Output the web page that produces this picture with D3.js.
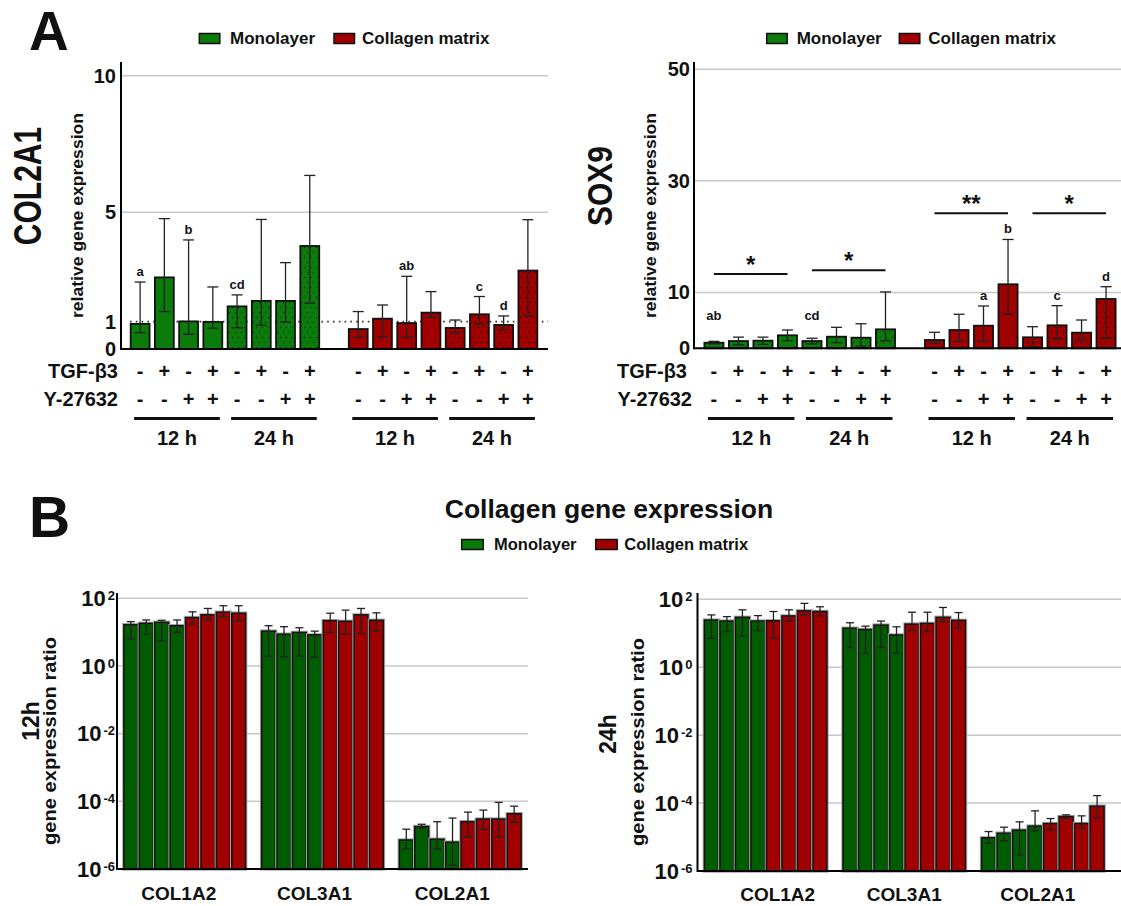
<!DOCTYPE html>
<html lang="en">
<head>
<meta charset="utf-8">
<title>COL2A1 / SOX9 / collagen gene expression</title>
<script src="https://d3js.org/d3.v7.min.js"></script>
<style>
  body { margin: 0; background: #fff; }
  svg { display: block; font-family: "Liberation Sans", Arial, Helvetica, sans-serif; }
  text { font-weight: bold; fill: #111; }
  .grid { stroke: #c8c8c8; stroke-width: 1.5; }
  .axisline { stroke: #000; stroke-width: 2; }
  .err { stroke: #222; stroke-width: 1.3; }
</style>
</head>
<body>
<script>
// ---------- data ----------
var cultures = ["Monolayer", "Collagen matrix"];
var times = ["12 h", "24 h"];
var tgf = ["-", "+", "-", "+", "-", "+", "-", "+"];
var y27632 = ["-", "-", "+", "+", "-", "-", "+", "+"];

// panel A: 8 monolayer bars (12 h, 24 h) then 8 collagen matrix bars
var col2a1Mean = [0.92, 2.62, 1.01, 0.99, 1.56, 1.76, 1.76, 3.77, 0.73, 1.11, 0.95, 1.33, 0.77, 1.27, 0.88, 2.87];
var col2a1Hi   = [2.45, 4.77, 3.99, 2.27, 1.98, 4.74, 3.16, 6.35, 1.37, 1.61, 2.66, 2.10, 1.06, 1.92, 1.21, 4.73];
var col2a1Lo   = [0.60, 1.37, 0.54, 0.76, 0.78, 0.87, 0.99, 1.68, 0.43, 0.45, 0.43, 1.16, 0.60, 0.90, 0.70, 1.22];
var col2a1Letters = ["a", "", "b", "", "cd", "", "", "", "", "", "ab", "", "", "c", "d", ""];

var sox9Mean = [1.0, 1.3, 1.36, 2.33, 1.3, 2.08, 1.9, 3.4, 1.49, 3.28, 4.05, 11.47, 1.97, 4.12, 2.8, 8.84];
var sox9Hi   = [1.25, 2.0, 2.0, 3.28, 1.8, 3.76, 4.4, 10.1, 2.87, 6.1, 7.58, 19.5, 3.87, 7.64, 5.07, 11.04];
var sox9Lo   = [0.8, 0.6, 0.7, 1.36, 0.8, 1.0, 0.4, 1.36, 0.9, 1.25, 1.25, 6.1, 0.3, 1.72, 1.49, 1.79];
var sox9Letters = ["ab", "", "", "", "cd", "", "", "", "", "", "a", "b", "", "c", "", "d"];
var sox9SigPairs = [[0, 3], [4, 7], [8, 11], [12, 15]];
var sox9SigStars = ["*", "*", "**", "*"];
var sox9SigLevel = [13.3, 14.0, 24.2, 24.2];

// panel B: per gene, 4 monolayer then 4 collagen matrix bars
var genes = ["COL1A2", "COL3A1", "COL2A1"];
var ratio12Mean = [
  [16.6, 18.2, 19.5, 15.5, 26.9, 32.4, 38.9, 36.3],
  [10.7, 8.7, 9.8, 8.3, 21.9, 20.9, 32.4, 22.4],
  [7.2e-6, 1.8e-5, 7.6e-6, 6.2e-6, 2.5e-5, 3.0e-5, 3.0e-5, 4.3e-5]];
var ratio12Hi = [
  [20.4, 22.9, 22.4, 22.9, 39.8, 50.1, 60.3, 60.3],
  [15.5, 14.5, 13.5, 10.7, 36.3, 44.7, 50.1, 37.2],
  [1.5e-5, 2.1e-5, 2.5e-5, 3.2e-5, 4.8e-5, 5.5e-5, 9.3e-5, 7.2e-5]];
var ratio12Lo = [
  [6.3, 8.7, 5.6, 9.8, 17.4, 22.9, 28.8, 21.9],
  [1.95, 1.86, 1.95, 1.82, 9.8, 8.7, 9.1, 11.0],
  [3.9e-6, 1.6e-5, 3.9e-6, 1.3e-6, 8.9e-6, 1.5e-5, 8.9e-6, 2.4e-5]];
var ratio24Mean = [
  [24.5, 22.9, 29.5, 22.9, 23.4, 32.4, 45.7, 43.7],
  [14.1, 12.9, 17.4, 8.9, 18.6, 19.5, 29.5, 24.0],
  [9.5e-6, 1.3e-5, 1.6e-5, 2.1e-5, 2.5e-5, 4.0e-5, 2.5e-5, 8.1e-5]];
var ratio24Hi = [
  [34.7, 30.9, 49.0, 33.1, 43.7, 49.0, 75.9, 60.3],
  [20.4, 16.2, 22.9, 15.5, 41.7, 41.7, 57.5, 40.7],
  [1.45e-5, 1.95e-5, 2.8e-5, 5.9e-5, 3.5e-5, 4.5e-5, 4.2e-5, 1.66e-4]];
var ratio24Lo = [
  [7.1, 11.2, 8.3, 12.0, 7.1, 22.9, 34.7, 32.4],
  [3.8, 2.6, 3.8, 2.6, 12.0, 11.2, 21.9, 14.1],
  [6.6e-6, 7.8e-6, 3.0e-6, 1.5e-5, 1.6e-5, 3.5e-5, 1.8e-5, 3.7e-5]];
var logTicks = [1e2, 1e0, 1e-2, 1e-4, 1e-6];

// ---------- setup ----------
var W = 1121, H = 906;
var green = "#0b7b0b", red = "#a00000", greenDark = "#005c00";
var svg = d3.select("body").append("svg").attr("width", W).attr("height", H);
var defs = svg.append("defs");

function dotPattern(id, color, dot) {
  var p = defs.append("pattern").attr("id", id).attr("patternUnits", "userSpaceOnUse")
    .attr("width", 6).attr("height", 10);
  p.append("rect").attr("width", 6).attr("height", 10).attr("fill", color);
  p.append("circle").attr("cx", 1.5).attr("cy", 2.5).attr("r", 0.75).attr("fill", dot);
  p.append("circle").attr("cx", 4.5).attr("cy", 7.5).attr("r", 0.75).attr("fill", dot);
}
dotPattern("dotG", green, "#053805");
dotPattern("dotR", red, "#3a0000");

function txt(g, s, x, y, size, anchor) {
  return g.append("text").attr("x", x).attr("y", y).attr("font-size", size)
    .attr("text-anchor", anchor || "start").text(s);
}
function vtxt(g, s, cx, cy, size, sy, len) {
  var t = g.append("text")
    .attr("transform", "translate(" + cx + "," + cy + ") rotate(-90) scale(1," + (sy || 1) + ")")
    .attr("text-anchor", "middle").attr("dy", "0.35em").attr("font-size", size).text(s);
  if (len) t.attr("textLength", len).attr("lengthAdjust", "spacingAndGlyphs");
  return t;
}
function legend(g, xs, y, size, sw, colors) {
  cultures.forEach(function (c, k) {
    g.append("rect").attr("x", xs[k * 2]).attr("y", y - 10.5).attr("width", sw).attr("height", 10)
      .attr("fill", colors[k]).attr("stroke", "#111").attr("stroke-width", 1.5);
    txt(g, c, xs[k * 2 + 1], y, size);
  });
}

// ---------- panel A ----------
function topPanel(o) {
  var g = svg.append("g");
  var x = d3.scaleBand().domain(d3.range(17)).range(o.band).paddingInner(0.22).paddingOuter(0.11);
  var y = d3.scaleLinear().domain([0, o.yMax]).range([o.base, o.top]);
  var slot = function (i) { return i < 8 ? i : i + 1; };
  var bw = x.bandwidth();
  var cx = function (i) { return x(slot(i)) + bw / 2; };

  g.selectAll("line.grid").data(o.grid).join("line").attr("class", "grid")
    .attr("x1", o.axisX).attr("x2", o.right)
    .attr("y1", function (d) { return y(d); }).attr("y2", function (d) { return y(d); });

  if (o.refLine) {
    g.append("line").attr("x1", o.axisX + 9).attr("x2", o.right)
      .attr("y1", y(o.refLine)).attr("y2", y(o.refLine))
      .attr("stroke", "#333").attr("stroke-width", 1.6).attr("stroke-dasharray", "1.6,4.2");
  }

  g.selectAll("rect.bar").data(o.mean).join("rect").attr("class", "bar")
    .attr("x", function (d, i) { return x(slot(i)); }).attr("width", bw)
    .attr("y", function (d) { return y(d); })
    .attr("height", function (d) { return y(0) - y(d); })
    .attr("fill", function (d, i) {
      var dotted = (i % 8) >= 4;
      if (i < 8) return dotted ? "url(#dotG)" : green;
      return dotted ? "url(#dotR)" : red;
    })
    .attr("stroke", "#111").attr("stroke-width", 1.8);

  var eb = g.selectAll("g.eb").data(o.mean).join("g").attr("class", "eb");
  eb.append("line").attr("class", "err")
    .attr("x1", function (d, i) { return cx(i); }).attr("x2", function (d, i) { return cx(i); })
    .attr("y1", function (d, i) { return y(o.lo[i]); }).attr("y2", function (d, i) { return y(o.hi[i]); });
  [o.hi, o.lo].forEach(function (arr) {
    eb.append("line").attr("class", "err")
      .attr("x1", function (d, i) { return cx(i) - 5.5; }).attr("x2", function (d, i) { return cx(i) + 5.5; })
      .attr("y1", function (d, i) { return y(arr[i]); }).attr("y2", function (d, i) { return y(arr[i]); });
  });

  g.selectAll("text.let").data(o.letters).join("text").attr("class", "let")
    .attr("x", function (d, i) { return cx(i); })
    .attr("y", function (d, i) { return y(Math.max(o.hi[i], o.letterFloor)) - 6; })
    .attr("text-anchor", "middle").attr("font-size", 13).text(function (d) { return d; });

  if (o.sig) {
    o.sig.pairs.forEach(function (p, k) {
      var yy = y(o.sig.level[k]);
      g.append("line").attr("x1", cx(p[0])).attr("x2", cx(p[1])).attr("y1", yy).attr("y2", yy)
        .attr("stroke", "#111").attr("stroke-width", 2);
      txt(g, o.sig.stars[k], (cx(p[0]) + cx(p[1])) / 2, yy - 1, 24, "middle");
    });
  }

  // axes
  var ax = g.append("g").attr("transform", "translate(" + o.axisX + ",0)")
    .call(d3.axisLeft(y).tickValues(o.ticks).tickSize(0).tickPadding(o.tickPad).tickFormat(d3.format("d")));
  ax.select(".domain").remove();
  ax.attr("font-family", null).attr("font-size", 20);
  ax.selectAll("text").attr("fill", "#111");
  g.append("line").attr("class", "axisline").attr("x1", o.axisX).attr("x2", o.axisX)
    .attr("y1", o.top).attr("y2", y(0) + 1);
  g.append("line").attr("class", "axisline").attr("x1", o.axisX).attr("x2", o.right)
    .attr("y1", y(0)).attr("y2", y(0));

  // titles
  vtxt(g, o.title, o.titleX, 186, 30, o.titleSy);
  vtxt(g, "relative gene expression", o.subX, 215.5, 17, 1, 205);

  // treatment rows
  var rows = [["TGF-β3", tgf, 378, o.rowLabelX[0]], ["Y-27632", y27632, 406, o.rowLabelX[1]]];
  rows.forEach(function (r) {
    txt(g, r[0], r[3], r[2], 20, "end");
    g.selectAll(null).data(d3.range(16)).join("text")
      .attr("x", function (i) { return cx(i); }).attr("y", r[2])
      .attr("text-anchor", "middle").attr("font-size", 20)
      .text(function (i) { return r[1][i % 8]; });
  });
  d3.range(4).forEach(function (k) {
    var x1 = cx(k * 4) - 6, x2 = cx(k * 4 + 3) + 7;
    g.append("line").attr("x1", x1).attr("x2", x2).attr("y1", 418.5).attr("y2", 418.5)
      .attr("stroke", "#111").attr("stroke-width", 3);
    txt(g, times[k % 2], (x1 + x2) / 2, 445, 20, "middle");
  });

  legend(g, o.legendX, 44, 17, 20.5, [green, red]);
}

topPanel({
  mean: col2a1Mean, hi: col2a1Hi, lo: col2a1Lo, letters: col2a1Letters, letterFloor: 0,
  axisX: 121, right: 548, top: 62, base: 349, yMax: 10.5, band: [128, 540],
  ticks: [0, 1, 5, 10], grid: [5, 10], tickPad: 5, refLine: 1,
  title: "COL2A1", titleX: 27.5, titleSy: 1.3, subX: 77.5,
  rowLabelX: [118, 118], legendX: [199.3, 230, 334, 362]
});
topPanel({
  mean: sox9Mean, hi: sox9Hi, lo: sox9Lo, letters: sox9Letters, letterFloor: 4,
  axisX: 694, right: 1121, top: 62, base: 348.3, yMax: 51.3, band: [701.7, 1118.3],
  ticks: [0, 10, 30, 50], grid: [10, 30, 50], tickPad: 4,
  sig: { pairs: sox9SigPairs, stars: sox9SigStars, level: sox9SigLevel },
  title: "SOX9", titleX: 600, titleSy: 1.15, subX: 650,
  rowLabelX: [687, 692], legendX: [766.7, 796.7, 899.3, 928.3]
});

// ---------- panel B ----------
function bottomPanel(o) {
  var g = svg.append("g");
  var x0 = d3.scaleBand().domain(genes).range(o.xRange).paddingInner(0.116).paddingOuter(0.05);
  var x1 = d3.scaleBand().domain(d3.range(8)).range([0, x0.bandwidth()]).paddingInner(0.1);
  var y = d3.scaleLog().domain([1e-6, 1e2]).range([o.base, o.y100]);

  g.selectAll("line.grid").data(logTicks.slice(0, 4)).join("line").attr("class", "grid")
    .attr("x1", o.axisX).attr("x2", o.right)
    .attr("y1", function (d) { return y(d); }).attr("y2", function (d) { return y(d); });

  var gg = g.selectAll("g.gene").data(genes).join("g").attr("class", "gene")
    .attr("transform", function (d) { return "translate(" + x0(d) + ",0)"; });
  var bars = gg.selectAll("g.b").data(function (d, gi) {
    return d3.range(8).map(function (i) {
      return { i: i, m: o.mean[gi][i], hi: o.hi[gi][i], lo: o.lo[gi][i] };
    });
  }).join("g").attr("class", "b");

  bars.append("rect").attr("x", function (d) { return x1(d.i); }).attr("width", x1.bandwidth())
    .attr("y", function (d) { return y(d.m); }).attr("height", function (d) { return o.base - y(d.m); })
    .attr("fill", "none").attr("stroke", "#aaa").attr("stroke-width", 3.5);
  bars.append("rect").attr("x", function (d) { return x1(d.i); }).attr("width", x1.bandwidth())
    .attr("y", function (d) { return y(d.m); }).attr("height", function (d) { return o.base - y(d.m); })
    .attr("fill", function (d) { return d.i < 4 ? greenDark : red; })
    .attr("stroke", "#111").attr("stroke-width", 1.5);

  var c = function (d) { return x1(d.i) + x1.bandwidth() / 2; };
  bars.append("line").attr("class", "err").attr("x1", c).attr("x2", c)
    .attr("y1", function (d) { return y(d.lo); }).attr("y2", function (d) { return y(d.hi); });
  ["hi", "lo"].forEach(function (k) {
    bars.append("line").attr("class", "err")
      .attr("x1", function (d) { return c(d) - 4; }).attr("x2", function (d) { return c(d) + 4; })
      .attr("y1", function (d) { return y(d[k]); }).attr("y2", function (d) { return y(d[k]); });
  });

  var ax = g.append("g").attr("transform", "translate(" + o.axisX + ",0)")
    .call(d3.axisLeft(y).tickValues(logTicks).tickSize(0).tickPadding(o.tickPad)
      .tickFormat(function () { return "10"; }));
  ax.select(".domain").remove();
  ax.attr("font-family", null).attr("font-size", 22);
  ax.selectAll("text").attr("fill", "#111").append("tspan")
    .attr("dx", 2).attr("dy", "-0.45em").attr("font-size", 13)
    .text(function (d) { return Math.round(Math.log10(d)); });
  g.append("line").attr("class", "axisline").attr("x1", o.axisX).attr("x2", o.axisX)
    .attr("y1", o.top).attr("y2", o.base + 1);
  g.append("line").attr("class", "axisline").attr("x1", o.axisX).attr("x2", o.right)
    .attr("y1", o.base).attr("y2", o.base);

  g.selectAll("text.gname").data(genes).join("text").attr("class", "gname")
    .attr("x", function (d, k) { return x0(d) + x0.bandwidth() / 2 + o.geneDx[k]; }).attr("y", o.geneY)
    .attr("text-anchor", "middle").attr("font-size", 19).text(function (d) { return d; });

  vtxt(g, o.label, o.labelX, o.labelY, 23);
  vtxt(g, "gene expression ratio", o.subX, o.subY, 19, 1, 208);
}

bottomPanel({
  mean: ratio12Mean, hi: ratio12Hi, lo: ratio12Lo,
  axisX: 117, right: 528, xRange: [117, 528], top: 593, y100: 598.3, base: 869, tickPad: 2,
  label: "12h", labelX: 31, labelY: 721, subX: 49, subY: 741, geneY: 900, geneDx: [-6, -8, -8]
});
bottomPanel({
  mean: ratio24Mean, hi: ratio24Hi, lo: ratio24Lo,
  axisX: 697.5, right: 1121, xRange: [697.5, 1111], top: 593, y100: 599.3, base: 871, tickPad: 5,
  label: "24h", labelX: 608, labelY: 734, subX: 637, subY: 742, geneY: 901, geneDx: [12, 0, -5]
});

// ---------- headings ----------
txt(svg, "A", 29, 50, 55);
txt(svg, "B", 29, 537, 57);
txt(svg, "Collagen gene expression", 609, 518, 26.5, "middle");
legend(svg, [461.7, 494, 595.7, 624.3], 550, 16.5, 21.5, ["#0a7a0a", red]);
</script>
</body>
</html>
